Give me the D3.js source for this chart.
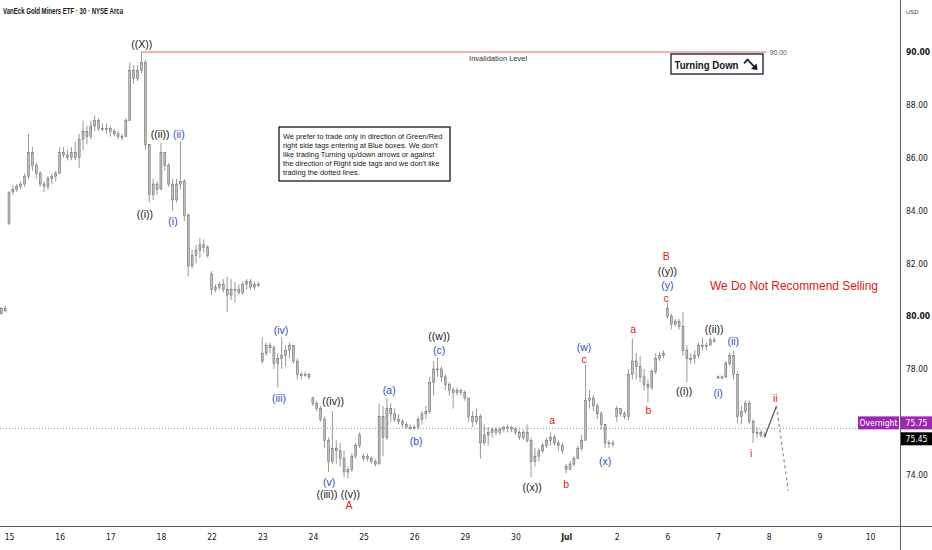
<!DOCTYPE html>
<html>
<head>
<meta charset="utf-8">
<script src="https://cdn.jsdelivr.net/npm/d3@7"></script>
<style>
  body { margin: 0; background: #fff; }
  svg { display: block; font-family: "Liberation Sans", Arial, sans-serif; }
</style>
</head>
<body>
<div id="chart"></div>
<script>
// ---- data ----
const dayLabels = ["15","16","17","18","22","23","24","25","26","29","30","Jul","2","6","7","8","9","10"];

// last bars of the session before the 15th: [high, low, close]
const priorOpen = 80.2;
const priorBars = [[80.4,80.0,80.1],[80.35,80.05,80.3],[80.4,80.15,80.2]];

// first open of every session shown
const dayOpens = [83.5,85.4,87.1,84.8,81.6,78.3,76.9,74.6,75.8,77.1,75.7,74.3,76.2,80.3,77.7];

// 30 min bars per session: [high, low, close]
const dayBars = [
  [[84.7,83.45,84.7],[84.95,84.6,84.8],[85.0,84.7,84.9],[85.1,84.8,85.0],[85.4,84.9,85.3],[86.9,85.2,86.2],[86.4,85.5,85.7],[85.8,85.2,85.4],[85.5,84.9,85.0],[85.1,84.7,84.9],[85.3,84.8,85.2],[85.4,85.0,85.3],[85.5,85.1,85.4]],
  [[86.4,85.4,86.2],[86.4,86.0,86.1],[86.3,85.9,86.0],[86.4,85.9,86.2],[86.6,85.9,86.0],[86.9,85.6,86.7],[87.4,86.3,87.0],[87.2,86.5,86.8],[87.4,86.7,87.2],[87.6,87.0,87.4],[87.5,87.0,87.1],[87.3,87.0,87.1],[87.3,86.9,87.1]],
  [[87.2,86.8,87.0],[87.1,86.8,86.9],[87.0,86.7,86.8],[86.9,86.65,86.8],[87.5,86.8,87.4],[89.6,87.4,89.3],[89.5,88.8,89.0],[89.5,88.9,89.3],[90.0,89.2,89.6],[89.7,86.3,86.5],[86.5,84.3,84.6],[85.2,84.4,85.0],[85.1,84.6,84.8]],
  [[86.55,84.8,86.2],[86.2,85.5,85.7],[85.8,84.9,85.0],[85.2,84.0,84.4],[85.2,84.3,85.0],[86.6,84.8,85.1],[85.2,83.6,83.8],[83.9,81.5,81.9],[82.5,81.8,82.3],[82.7,82.0,82.5],[82.95,82.2,82.7],[82.9,82.4,82.6],[82.7,82.2,82.3]],
  [[81.7,80.8,81.0],[81.2,80.9,81.1],[81.3,81.0,81.2],[81.4,80.9,81.0],[81.5,80.15,80.8],[81.4,80.6,81.0],[81.3,80.5,81.0],[81.2,80.8,80.9],[81.3,80.8,81.2],[81.4,81.0,81.3],[81.4,81.0,81.1],[81.3,81.0,81.2],[81.3,81.1,81.2]],
  [[79.2,78.2,78.6],[79.0,78.5,78.9],[79.0,78.6,78.8],[78.9,78.0,78.2],[78.6,77.3,78.4],[79.2,78.0,78.5],[78.9,78.1,78.7],[79.0,78.4,78.9],[78.9,78.2,78.3],[78.4,77.6,77.8],[77.9,77.6,77.8],[77.9,77.7,77.8],[77.85,77.6,77.7]],
  [[76.95,76.6,76.7],[76.8,76.4,76.5],[76.6,76.0,76.1],[76.2,75.0,75.3],[75.4,74.1,74.5],[76.4,74.4,75.0],[75.3,74.4,74.9],[75.2,74.3,74.6],[74.9,73.9,74.1],[74.3,73.85,74.2],[74.8,74.1,74.7],[75.2,74.6,75.1],[75.6,75.0,75.5]],
  [[74.8,74.5,74.7],[74.8,74.5,74.6],[74.7,74.4,74.5],[74.6,74.3,74.4],[76.7,74.4,76.2],[76.6,74.7,75.4],[76.9,75.3,76.5],[76.7,76.0,76.3],[76.5,76.0,76.1],[76.3,75.9,76.0],[76.1,75.8,75.9],[76.0,75.75,75.8],[75.9,75.7,75.8]],
  [[75.9,75.7,75.8],[76.2,75.7,76.1],[76.4,75.9,76.3],[76.6,76.1,76.4],[77.7,76.3,77.5],[78.3,77.0,78.0],[78.45,77.7,78.0],[78.1,77.5,77.7],[77.8,77.2,77.4],[77.5,77.0,77.2],[77.3,76.5,77.1],[77.3,77.0,77.2],[77.25,77.0,77.1]],
  [[77.2,76.8,76.9],[76.9,76.0,76.2],[76.4,75.8,76.0],[76.5,75.9,76.2],[76.3,74.6,75.2],[75.9,75.1,75.5],[75.8,75.1,75.6],[75.8,75.4,75.7],[75.8,75.5,75.6],[75.8,75.5,75.7],[75.85,75.6,75.8],[75.9,75.6,75.8],[75.85,75.6,75.7]],
  [[75.8,75.5,75.6],[75.7,75.3,75.4],[75.7,75.3,75.6],[75.9,75.2,75.3],[75.4,73.9,74.5],[75.0,74.3,74.7],[75.0,74.5,74.9],[75.2,74.8,75.1],[75.4,75.0,75.3],[75.6,75.1,75.4],[75.5,75.1,75.2],[75.3,74.9,75.1],[75.2,74.8,74.9]],
  [[74.4,74.05,74.2],[74.5,74.2,74.4],[74.7,74.3,74.6],[75.1,74.6,75.0],[75.5,74.9,75.3],[78.15,75.5,76.8],[77.2,76.5,76.9],[77.0,76.4,76.6],[76.7,76.1,76.3],[76.4,75.7,75.9],[75.9,75.0,75.2],[75.3,75.0,75.2],[75.3,75.05,75.15]],
  [[76.6,76.0,76.5],[76.5,76.2,76.3],[76.4,76.1,76.2],[78.0,76.05,77.8],[79.15,77.6,78.3],[78.6,77.6,78.1],[78.5,77.5,77.7],[78.0,77.2,77.4],[77.6,76.75,77.3],[78.0,77.2,77.9],[78.6,77.8,78.4],[78.65,78.3,78.5],[78.7,78.4,78.6]],
  [[80.5,79.9,80.0],[80.1,79.5,79.7],[79.9,79.6,79.8],[79.9,79.5,79.6],[80.15,78.5,78.7],[78.9,77.5,78.4],[78.6,78.2,78.4],[78.7,78.2,78.5],[79.0,78.4,78.9],[79.2,78.7,78.9],[79.0,78.7,78.9],[79.2,78.9,79.1],[79.2,79.0,79.05]],
  [[77.75,77.6,77.7],[77.75,77.6,77.7],[78.3,77.65,78.2],[78.6,78.1,78.5],[78.7,77.6,77.8],[77.9,75.95,76.2],[76.6,75.9,76.4],[76.8,76.3,76.7],[76.8,75.9,76.0],[76.1,75.2,75.6],[75.8,75.4,75.6],[75.7,75.4,75.5],[75.6,75.4,75.45]]
];

const priceTicks = [74, 76, 78, 80, 82, 84, 86, 88, 90];
const invalidationLevel = 90;
const overnightPrice = 75.75;
const lastPrice = 75.45;

// projected path: [bar index, price]
const projectionSolid = [[197, 75.45], [200, 76.6]];
const projectionDashed = [[200, 76.6], [203, 73.4]];

// wave labels: [text, bar index, price, colour]
const waveLabels = [
  ["((X))", 37.1, 90.3, "k"],
  ["((i))", 37.9, 83.86, "k"],
  ["((ii))", 41.8, 86.9, "k"],
  ["(ii)", 46.6, 86.9, "b"],
  ["(i)", 45.1, 83.6, "b"],
  ["(iv)", 72.8, 79.47, "b"],
  ["(iii)", 72.3, 76.89, "b"],
  ["((iv))", 86.2, 76.78, "k"],
  ["(v)", 85.2, 73.71, "b"],
  ["((iii))", 84.6, 73.26, "k"],
  ["((v))", 90.6, 73.26, "k"],
  ["A", 90.3, 72.84, "r"],
  ["(a)", 100.6, 77.2, "b"],
  ["(b)", 107.5, 75.27, "b"],
  ["((w))", 113.4, 79.24, "k"],
  ["(c)", 113.4, 78.71, "b"],
  ["((x))", 137.3, 73.52, "k"],
  ["a", 142.4, 76.06, "r"],
  ["b", 146.0, 73.64, "r"],
  ["(w)", 150.6, 78.83, "b"],
  ["c", 150.6, 78.37, "r"],
  ["(x)", 156.0, 74.51, "b"],
  ["a", 163.2, 79.51, "r"],
  ["b", 167.1, 76.44, "r"],
  ["B", 171.7, 82.27, "r"],
  ["((y))", 172.0, 81.70, "k"],
  ["(y)", 172.0, 81.17, "b"],
  ["c", 171.7, 80.68, "r"],
  ["((i))", 176.3, 77.16, "k"],
  ["((ii))", 184.0, 79.51, "k"],
  ["(ii)", 188.9, 79.05, "b"],
  ["(i)", 185.0, 77.08, "b"],
  ["i", 193.5, 74.81, "r"],
  ["ii", 199.7, 76.89, "r"]
];

const noteLines = [
  "We prefer to trade only in direction of Green/Red",
  "right side tags entering at Blue boxes. We don't",
  "like trading Turning up/down arrows or against",
  "the direction of Right side tags and we don't like",
  "trading the dotted lines."
];

// ---- build bar table ----
const barsPerDay = 13;
let bars = [];
let prevClose = priorOpen;
priorBars.forEach(b => {
  bars.push({ i: bars.length, o: prevClose, h: b[0], l: b[1], c: b[2] });
  prevClose = b[2];
});
dayBars.forEach((day, d) => {
  day.forEach((b, k) => {
    let o = k === 0 ? dayOpens[d] : prevClose;
    bars.push({ i: bars.length, o: o, h: Math.max(b[0], o, b[2]), l: Math.min(b[1], o, b[2]), c: b[2] });
    prevClose = b[2];
  });
});

// ---- layout ----
const width = 932, height = 550;
const paneRight = 900, paneBottom = 526;
const colors = { k: "#131722", b: "#2f4fc0", r: "#e3171c" };
const narrow = "'Liberation Sans Narrow', 'DejaVu Sans Condensed', sans-serif";
const first = priorBars.length;

let x = d3.scaleLinear()
  .domain([first, first + barsPerDay * (dayLabels.length - 1)])
  .range([9, 870]);
let y = d3.scaleLinear()
  .domain([74, 90])
  .range([474.6, 52]);

let svg = d3.select("#chart").append("svg")
  .attr("width", width).attr("height", height);

svg.append("defs").append("clipPath").attr("id", "pane")
  .append("rect").attr("width", paneRight).attr("height", paneBottom);

let pane = svg.append("g").attr("clip-path", "url(#pane)");

// dotted line at the overnight price
pane.append("line")
  .attr("x1", 0).attr("x2", paneRight)
  .attr("y1", y(overnightPrice)).attr("y2", y(overnightPrice))
  .attr("stroke", "#9598a1").attr("stroke-width", 1)
  .attr("stroke-dasharray", "1,2");

// invalidation line
let invStart = x(37);
let invEnd = x(197.5);
pane.append("line")
  .attr("x1", invStart).attr("x2", invEnd)
  .attr("y1", y(invalidationLevel)).attr("y2", y(invalidationLevel))
  .attr("stroke", "#e06464").attr("stroke-width", 1);
pane.append("text")
  .attr("x", invEnd + 3).attr("y", y(invalidationLevel) + 2.5)
  .attr("font-size", 7).attr("fill", "#555")
  .attr("textLength", 17).attr("lengthAdjust", "spacingAndGlyphs")
  .text(d3.format(".2f")(invalidationLevel));
pane.append("text")
  .attr("x", (invStart + invEnd) / 2 + 44).attr("y", y(invalidationLevel) + 9)
  .attr("text-anchor", "middle")
  .attr("font-size", 7).attr("fill", "#333")
  .attr("textLength", 58).attr("lengthAdjust", "spacingAndGlyphs")
  .text("Invalidation Level");

// candles
let bw = 2;
let candle = pane.selectAll(".bar")
  .data(bars).enter().append("g")
  .attr("class", "bar");
candle.append("line")
  .attr("x1", d => x(d.i)).attr("x2", d => x(d.i))
  .attr("y1", d => y(d.h)).attr("y2", d => y(d.l))
  .attr("stroke", "#999").attr("stroke-width", 1);
candle.append("rect")
  .attr("x", d => x(d.i) - bw / 2)
  .attr("width", bw)
  .attr("y", d => y(Math.max(d.o, d.c)))
  .attr("height", d => Math.max(1, Math.abs(y(d.o) - y(d.c))))
  .attr("fill", "#bdbdbd")
  .attr("stroke", "#4a4a4a").attr("stroke-width", 0.4);

// projection
let line = d3.line().x(d => x(d[0])).y(d => y(d[1]));
pane.append("path").datum(projectionSolid)
  .attr("d", line).attr("fill", "none")
  .attr("stroke", "#555").attr("stroke-width", 1.2);
pane.append("path").datum(projectionDashed)
  .attr("d", line).attr("fill", "none")
  .attr("stroke", "#8a8a8a").attr("stroke-width", 1.2)
  .attr("stroke-dasharray", "3,3");

// wave labels
pane.selectAll(".wave")
  .data(waveLabels).enter().append("text")
  .attr("class", "wave")
  .attr("x", d => x(d[1]))
  .attr("y", d => y(d[2]))
  .attr("dy", "0.35em")
  .attr("text-anchor", "middle")
  .attr("font-size", 10.5)
  .attr("fill", d => colors[d[3]])
  .text(d => d[0]);

// note box
let note = pane.append("g").attr("transform", "translate(279,127)");
note.append("rect")
  .attr("width", 171).attr("height", 54)
  .attr("fill", "#fff").attr("stroke", "#131722").attr("stroke-width", 1.3);
note.selectAll("text")
  .data(noteLines).enter().append("text")
  .attr("x", 4).attr("y", (d, i) => 11.5 + i * 9)
  .attr("font-size", 7.4).attr("fill", "#131722")
  .text(d => d);

// turning down box
let turn = pane.append("g").attr("transform", "translate(671,54)");
turn.append("rect")
  .attr("width", 92).attr("height", 20)
  .attr("fill", "#fff").attr("stroke", "#131722").attr("stroke-width", 1.3);
turn.append("text")
  .attr("x", 3.5).attr("y", 14.5)
  .attr("font-size", 11.5).attr("font-weight", 600).attr("fill", "#131722")
  .attr("textLength", 64).attr("lengthAdjust", "spacingAndGlyphs")
  .text("Turning Down");
turn.append("path")
  .attr("d", "M73,9.5 L76.5,5.5 L84,13.5")
  .attr("fill", "none").attr("stroke", "#131722").attr("stroke-width", 1.8)
  .attr("stroke-linejoin", "round");
turn.append("path")
  .attr("d", "M86.5,16 L80,15 L85.5,9.5 Z")
  .attr("fill", "#131722");

// red message
pane.append("text")
  .attr("x", 710).attr("y", 290)
  .attr("font-size", 13.5).attr("fill", "#e3171c")
  .attr("textLength", 168).attr("lengthAdjust", "spacingAndGlyphs")
  .text("We Do Not Recommend Selling");

// title
svg.append("text")
  .attr("x", 3).attr("y", 14)
  .attr("font-size", 8.5).attr("font-weight", 600).attr("fill", "#131722")
  .attr("textLength", 120).attr("lengthAdjust", "spacingAndGlyphs")
  .text("VanEck Gold Miners ETF · 30 · NYSE Arca");

// ---- axes ----
svg.append("line")
  .attr("x1", 0).attr("x2", width)
  .attr("y1", paneBottom + 0.5).attr("y2", paneBottom + 0.5)
  .attr("stroke", "#5d606b").attr("stroke-width", 1);
svg.append("line")
  .attr("x1", paneRight + 0.5).attr("x2", paneRight + 0.5)
  .attr("y1", 0).attr("y2", height)
  .attr("stroke", "#5d606b").attr("stroke-width", 1);

// time axis
let tickIdx = dayLabels.map((d, k) => first + k * barsPerDay);
let xAxis = d3.axisBottom(x)
  .tickValues(tickIdx)
  .tickSize(0)
  .tickPadding(8)
  .tickFormat((d, k) => dayLabels[k]);
let gx = svg.append("g")
  .attr("transform", "translate(0," + paneBottom + ")")
  .call(xAxis);
gx.select(".domain").remove();
gx.selectAll("text")
  .attr("font-family", narrow)
  .attr("font-size", 8.5).attr("fill", "#131722")
  .attr("font-weight", d => d === first + 11 * barsPerDay ? 700 : 400);

// price axis
let yAxis = d3.axisRight(y)
  .tickValues(priceTicks)
  .tickSize(0)
  .tickPadding(6)
  .tickFormat(d3.format(".2f"));
let gy = svg.append("g")
  .attr("transform", "translate(" + paneRight + ",0)")
  .call(yAxis);
gy.select(".domain").remove();
gy.selectAll("text")
  .attr("font-family", narrow)
  .attr("font-size", 8.5).attr("fill", "#131722")
  .attr("font-weight", d => (d === 90 || d === 80) ? 700 : 400);

svg.append("text")
  .attr("x", 906).attr("y", 14)
  .attr("font-size", 6).attr("fill", "#444")
  .text("USD");

// price tags
let tagH = 13;
let onY = y(overnightPrice) - 12;
svg.append("rect")
  .attr("x", 858).attr("y", onY).attr("width", 41).attr("height", tagH)
  .attr("fill", "#9c27b0");
svg.append("text")
  .attr("x", 878.5).attr("y", onY + 9.5).attr("text-anchor", "middle")
  .attr("font-size", 8.5).attr("fill", "#fff")
  .attr("font-family", narrow)
  .text("Overnight");
svg.append("rect")
  .attr("x", 901).attr("y", onY).attr("width", 31).attr("height", tagH)
  .attr("fill", "#9c27b0");
svg.append("text")
  .attr("x", 916.5).attr("y", onY + 9.5).attr("text-anchor", "middle")
  .attr("font-size", 8.5).attr("fill", "#fff")
  .attr("font-family", narrow)
  .text(d3.format(".2f")(overnightPrice));

let lpY = y(lastPrice) - 4;
svg.append("rect")
  .attr("x", 901).attr("y", lpY).attr("width", 31).attr("height", tagH)
  .attr("fill", "#000");
svg.append("text")
  .attr("x", 916.5).attr("y", lpY + 9.5).attr("text-anchor", "middle")
  .attr("font-size", 8.5).attr("fill", "#fff")
  .attr("font-family", narrow)
  .text(d3.format(".2f")(lastPrice));
</script>
</body>
</html>
